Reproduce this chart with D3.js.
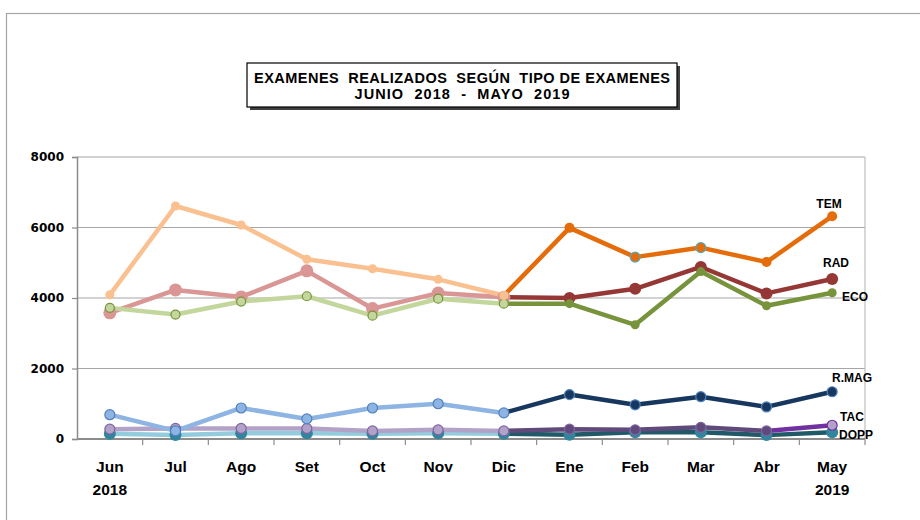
<!DOCTYPE html>
<html>
<head>
<meta charset="utf-8">
<script src="https://cdn.jsdelivr.net/npm/d3@7"></script>
<style>
  html, body { margin: 0; padding: 0; background: #fff; }
  svg { display: block; }
</style>
</head>
<body>
<div id="chart"></div>
<script>
// Months (x categories) and the year line under first/last
const MONTHS = ['Jun', 'Jul', 'Ago', 'Set', 'Oct', 'Nov', 'Dic', 'Ene', 'Feb', 'Mar', 'Abr', 'May'];
const YEARS = ['2018', '', '', '', '', '', '', '', '', '', '', '2019'];
const Y_TICKS = [0, 2000, 4000, 6000, 8000];

// Exam counts per month
const TEM = [4090, 6610, 6070, 5100, 4830, 4530, 4070, 5990, 5160, 5430, 5020, 6320];
const RAD = [3580, 4230, 4030, 4770, 3700, 4140, 4020, 4000, 4260, 4880, 4130, 4540];
const ECO = [3720, 3530, 3900, 4050, 3500, 3980, 3840, 3840, 3240, 4750, 3780, 4150];
const RMAG = [690, 230, 880, 570, 880, 1000, 740, 1260, 970, 1200, 910, 1340];
const TAC = [280, 300, 300, 300, 230, 260, 230, 280, 260, 330, 230, 390];
const DOPP = [150, 110, 160, 160, 150, 160, 150, 120, 190, 190, 110, 190];

const W = 920, H = 520;
const plot = { left: 77, right: 865, top: 157, bottom: 439 };
const TICK_FONT = '"DejaVu Sans", Verdana, sans-serif';
const ARIAL = '"Liberation Sans", Arial, sans-serif';

const svg = d3.select('#chart').append('svg')
  .attr('width', W).attr('height', H)
  .style('font-family', ARIAL);

// Outer chart frame (runs off the right and bottom edge)
svg.append('rect')
  .attr('x', 6.5).attr('y', 13.5)
  .attr('width', 1000).attr('height', 1000)
  .attr('fill', 'none').attr('stroke', '#a6a6a6').attr('stroke-width', 1.2);

const x = d3.scaleBand().domain(MONTHS).range([plot.left, plot.right]).padding(0);
const cx = m => x(m) + x.bandwidth() / 2;
const y = d3.scaleLinear().domain([0, 8000]).range([plot.bottom, plot.top]);

// Gridlines
svg.append('g')
  .selectAll('line')
  .data(Y_TICKS.filter(d => d > 0))
  .join('line')
  .attr('x1', plot.left).attr('x2', plot.right)
  .attr('y1', d => y(d)).attr('y2', d => y(d))
  .attr('stroke', '#a6a6a6').attr('stroke-width', 1.2);

// Right border of plot area
svg.append('line')
  .attr('x1', plot.right).attr('x2', plot.right)
  .attr('y1', plot.top).attr('y2', plot.bottom)
  .attr('stroke', '#bfbfbf').attr('stroke-width', 1.2);

// Y axis
const yAxis = svg.append('g')
  .attr('transform', `translate(${plot.left},0)`)
  .call(d3.axisLeft(y).tickValues(Y_TICKS).tickSize(5).tickPadding(8).tickFormat(d3.format('d')));
yAxis.select('.domain').attr('stroke', '#8c8c8c').attr('stroke-width', 1.5);
yAxis.selectAll('.tick line').attr('stroke', '#8c8c8c').attr('stroke-width', 1.2);
yAxis.selectAll('.tick text')
  .attr('fill', '#000').style('font-size', '12px').style('font-weight', 'bold')
  .style('font-family', TICK_FONT);

// X axis: ticks at category boundaries
const xg = svg.append('g');
xg.append('line')
  .attr('x1', plot.left).attr('x2', plot.right)
  .attr('y1', plot.bottom).attr('y2', plot.bottom)
  .attr('stroke', '#8c8c8c').attr('stroke-width', 2);
xg.selectAll('.xt')
  .data(MONTHS)
  .join('line')
  .attr('class', 'xt')
  .attr('x1', d => x(d) + x.bandwidth()).attr('x2', d => x(d) + x.bandwidth())
  .attr('y1', plot.bottom).attr('y2', plot.bottom + 6)
  .attr('stroke', '#8c8c8c').attr('stroke-width', 1.2);
xg.selectAll('.xm')
  .data(MONTHS)
  .join('text')
  .attr('class', 'xm')
  .attr('x', d => cx(d)).attr('y', 472)
  .attr('text-anchor', 'middle')
  .style('font-size', '15.5px').style('font-weight', 'bold')
  .text(d => d);
xg.selectAll('.xy')
  .data(MONTHS)
  .join('text')
  .attr('class', 'xy')
  .attr('x', d => cx(d)).attr('y', 495)
  .attr('text-anchor', 'middle')
  .style('font-size', '15.5px').style('font-weight', 'bold')
  .text((d, i) => YEARS[i]);

// Series styling: first half (Jun-Dic) light, second half (Dic-May) dark
const SERIES = [
  { name: 'DOPP', values: DOPP, light: '#93cddd', dark: '#215968', last: '#215968',
    mk: { r: 6, fill: '#31859c', stroke: 'none' }, mk2: { r: 6, fill: '#31859c', stroke: 'none' } },
  { name: 'TAC', values: TAC, light: '#b3a2c7', dark: '#604a7b', last: '#7030a0',
    mk: { r: 5, fill: '#b3a2c7', stroke: '#8064a2' }, mk2: { r: 5, fill: '#604a7b', stroke: '#8064a2' } },
  { name: 'RAD', values: RAD, light: '#d99694', dark: '#953735', last: '#953735',
    mk: { r: 6.5, fill: '#d99694', stroke: 'none' }, mk2: { r: 6, fill: '#953735', stroke: 'none' } },
  { name: 'ECO', values: ECO, light: '#c3d69b', dark: '#77933c', last: '#77933c',
    mk: { r: 4.5, fill: '#c3d69b', stroke: '#77933c' }, mk2: { r: 4.5, fill: '#77933c', stroke: 'none' } },
  { name: 'R.MAG', values: RMAG, light: '#8eb4e3', dark: '#17375e', last: '#17375e',
    mk: { r: 5, fill: '#8eb4e3', stroke: '#4f81bd' }, mk2: { r: 5, fill: '#17375e', stroke: '#4f81bd' } },
  { name: 'TEM', values: TEM, light: '#fac090', dark: '#e46c0a', last: '#e46c0a',
    mk: { r: 4.5, fill: '#fac090', stroke: 'none' }, mk2: { r: 5, fill: '#e46c0a', stroke: 'none' } },
];

const line = d3.line().x(d => cx(d.m)).y(d => y(d.v));
const pts = s => s.values.map((v, i) => ({ m: MONTHS[i], v, i }));

// Lines
SERIES.forEach(s => {
  const p = pts(s);
  svg.append('path').datum(p.slice(0, 7)).attr('d', line)
    .attr('fill', 'none').attr('stroke', s.light).attr('stroke-width', 4.5).attr('stroke-linejoin', 'round');
  svg.append('path').datum(p.slice(6, 11)).attr('d', line)
    .attr('fill', 'none').attr('stroke', s.dark).attr('stroke-width', 4.5).attr('stroke-linejoin', 'round');
  svg.append('path').datum(p.slice(10, 12)).attr('d', line)
    .attr('fill', 'none').attr('stroke', s.last).attr('stroke-width', 4.5).attr('stroke-linejoin', 'round');
});

// Markers
SERIES.forEach(s => {
  svg.append('g')
    .selectAll('circle')
    .data(pts(s))
    .join('circle')
    .attr('cx', d => cx(d.m)).attr('cy', d => y(d.v))
    .attr('r', d => (d.i <= 6 ? s.mk : s.mk2).r)
    .attr('fill', d => {
      if (s.name === 'TAC' && d.i === 11) return '#b3a2c7';
      return (d.i <= 6 ? s.mk : s.mk2).fill;
    })
    .attr('stroke', d => {
      if (s.name === 'TEM' && (d.i === 8 || d.i === 9)) return '#4bacc6';
      if (s.name === 'TAC' && d.i === 11) return '#7030a0';
      return (d.i <= 6 ? s.mk : s.mk2).stroke;
    })
    .attr('stroke-width', 1.2);
});

// Series labels at the right end
const LABELS = [
  { t: 'TEM', x: 829, y: 208, a: 'middle' },
  { t: 'RAD', x: 836, y: 267, a: 'middle' },
  { t: 'ECO', x: 842, y: 301, a: 'start' },
  { t: 'R.MAG', x: 852, y: 382, a: 'middle' },
  { t: 'TAC', x: 852, y: 421, a: 'middle' },
  { t: 'DOPP', x: 839, y: 439, a: 'start' },
];
svg.append('g')
  .selectAll('text')
  .data(LABELS)
  .join('text')
  .attr('x', d => d.x).attr('y', d => d.y)
  .attr('text-anchor', d => d.a)
  .style('font-size', '12px').style('font-weight', 'bold')
  .text(d => d.t);

// Title box with shadow
const tb = { x: 247, y: 63, w: 430, h: 44 };
svg.append('rect')
  .attr('x', tb.x + 3).attr('y', tb.y + 3).attr('width', tb.w).attr('height', tb.h)
  .attr('fill', '#404040');
svg.append('rect')
  .attr('x', tb.x).attr('y', tb.y).attr('width', tb.w).attr('height', tb.h)
  .attr('fill', '#fff').attr('stroke', '#000').attr('stroke-width', 1.2);
svg.append('text')
  .attr('x', tb.x + tb.w / 2).attr('y', 83)
  .attr('text-anchor', 'middle')
  .attr('textLength', 416).attr('lengthAdjust', 'spacing')
  .style('white-space', 'pre')
  .style('font-size', '14.5px').style('font-weight', 'bold')
  .text('EXAMENES  REALIZADOS  SEGÚN  TIPO DE EXAMENES');
svg.append('text')
  .attr('x', tb.x + tb.w / 2).attr('y', 99)
  .attr('text-anchor', 'middle')
  .attr('textLength', 215).attr('lengthAdjust', 'spacing')
  .style('white-space', 'pre')
  .style('font-size', '14.5px').style('font-weight', 'bold')
  .text('JUNIO  2018  -  MAYO  2019');
</script>
</body>
</html>
